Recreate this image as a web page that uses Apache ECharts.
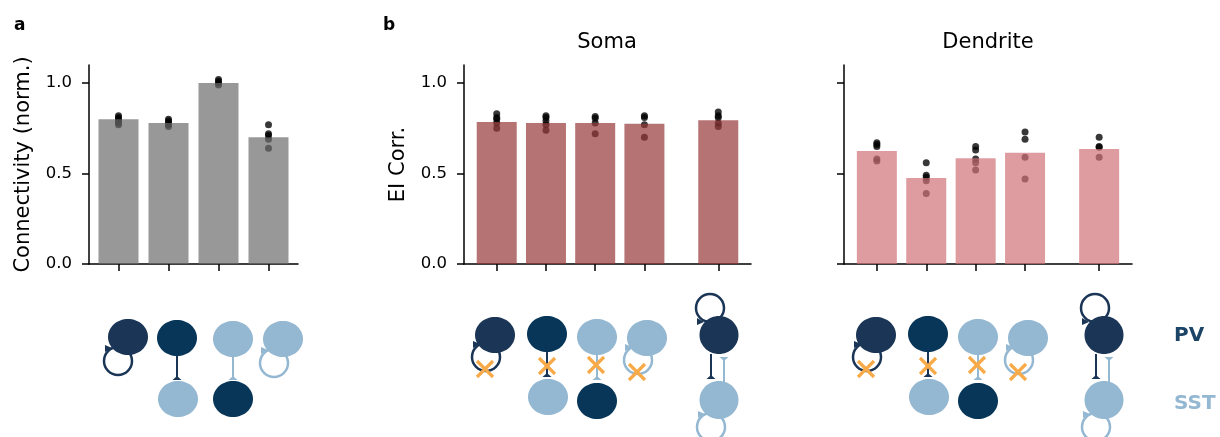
<!DOCTYPE html>
<html>
<head>
<meta charset="utf-8">
<script src="https://cdn.jsdelivr.net/npm/echarts@6/dist/echarts.min.js"></script>
<style>
  html, body { margin: 0; padding: 0; background: #fff; }
  #chart { width: 1220px; height: 437px; }
</style>
</head>
<body>
<div id="chart"></div>
<script>
// ---- data ----
var connCats = ['PV→PV', 'PV→SST', 'SST→PV', 'SST→SST'];
var connPos = [0, 1, 2, 3];
var connMean = [0.80, 0.78, 1.00, 0.70];
var connDots = [
  [0.82, 0.81, 0.80, 0.79, 0.78, 0.77],
  [0.80, 0.79, 0.78, 0.77, 0.76],
  [1.02, 1.01, 1.00, 0.99],
  [0.77, 0.72, 0.71, 0.69, 0.64]
];

var eiCats = ['no PV→PV', 'no PV→SST', 'no SST→PV', 'no SST→SST', 'full'];
var eiPos = [0, 1, 2, 3, 4.5];
var somaMean = [0.785, 0.78, 0.78, 0.775, 0.795];
var somaDots = [
  [0.83, 0.81, 0.80, 0.78, 0.75],
  [0.82, 0.81, 0.79, 0.77, 0.74],
  [0.815, 0.805, 0.78, 0.72],
  [0.82, 0.81, 0.77, 0.70],
  [0.84, 0.82, 0.81, 0.78, 0.76]
];
var dendMean = [0.625, 0.475, 0.585, 0.615, 0.635];
var dendDots = [
  [0.67, 0.66, 0.65, 0.58, 0.57],
  [0.56, 0.49, 0.48, 0.46, 0.39],
  [0.65, 0.63, 0.58, 0.56, 0.52],
  [0.73, 0.69, 0.59, 0.47],
  [0.70, 0.65, 0.645, 0.59]
];

var yTicks = [0, 0.5, 1.0];

// ---- colours ----
var PV_LOOP = '#1a3555';
var PV = '#073659';
var SST = '#94b8d2';
var CROSS = '#f8aa48';

function barData(pos, mean) {
  return pos.map(function (x, i) { return [x, mean[i]]; });
}
function dotData(pos, dots) {
  var out = [];
  dots.forEach(function (list, i) {
    list.forEach(function (v) { out.push([pos[i], v]); });
  });
  return out;
}

function xAx(idx, min, max, ticks) {
  return {
    type: 'value', gridIndex: idx, min: min, max: max,
    splitLine: { show: false },
    axisLine: { onZero: false, lineStyle: { color: '#000', width: 1.5 } },
    axisTick: { show: true, customValues: ticks, length: 7, lineStyle: { color: '#000', width: 1.5 } },
    axisLabel: { show: false }
  };
}
function yAx(idx, name, labels) {
  return {
    type: 'value', gridIndex: idx, min: 0, max: 1.1,
    name: name, nameLocation: 'middle', nameGap: 55,
    nameTextStyle: { fontSize: 21, color: '#000' },
    splitLine: { show: false },
    axisLine: { show: true, onZero: false, lineStyle: { color: '#000', width: 1.5 } },
    axisTick: { show: true, customValues: yTicks, length: 7, lineStyle: { color: '#000', width: 1.5 } },
    axisLabel: {
      show: labels, customValues: yTicks, fontSize: 16.5, color: '#000', margin: 17,
      formatter: function (v) { return v.toFixed(1); }
    }
  };
}
function barSeries(idx, pos, mean, color) {
  return {
    type: 'bar', xAxisIndex: idx, yAxisIndex: idx, barWidth: 40, z: 3,
    data: barData(pos, mean),
    itemStyle: { color: color, opacity: 0.7 },
    silent: true
  };
}
function dotSeries(idx, pos, dots) {
  return {
    type: 'scatter', xAxisIndex: idx, yAxisIndex: idx, z: 2,
    symbolSize: 7, data: dotData(pos, dots),
    itemStyle: { color: '#000', opacity: 0.78 },
    silent: true
  };
}

// ---- network sketches below the bars ----
var g = [];
var loops = [], links = [], ells = [], heads = [], crosses = [];

function ell(cx, cy, color, rx, ry) {
  ells.push({ type: 'ellipse', shape: { cx: cx, cy: cy, rx: rx || 20, ry: ry || 18 }, style: { fill: color }, silent: true });
}
function loop(cx, cy, color, above) {
  loops.push({ type: 'circle', shape: { cx: cx, cy: cy, r: 14 }, style: { fill: 'none', stroke: color, lineWidth: 2.5 }, silent: true });
  var pts = above
    ? [[cx - 13, cy + 10], [cx - 13, cy + 17], [cx - 6, cy + 14]]
    : [[cx - 13, cy - 16], [cx - 13, cy - 9], [cx - 6, cy - 13]];
  heads.push({ type: 'polygon', shape: { points: pts }, style: { fill: color }, silent: true });
}
function link(x, y1, y2, color, down) {
  links.push({ type: 'line', shape: { x1: x, y1: y1, x2: x, y2: y2 }, style: { stroke: color, lineWidth: 2 }, silent: true });
  var pts = down
    ? [[x - 4.5, y1], [x + 4.5, y1], [x, y1 + 4]]
    : [[x, y2 - 4], [x - 4.5, y2], [x + 4.5, y2]];
  heads.push({ type: 'polygon', shape: { points: pts }, style: { fill: color }, silent: true });
}
function cross(cx, cy) {
  var d = 8;
  crosses.push({ type: 'line', shape: { x1: cx - d, y1: cy - d, x2: cx + d, y2: cy + d }, style: { stroke: CROSS, lineWidth: 3.2 }, silent: true });
  crosses.push({ type: 'line', shape: { x1: cx - d, y1: cy + d, x2: cx + d, y2: cy - d }, style: { stroke: CROSS, lineWidth: 3.2 }, silent: true });
}

// panel a
ell(128, 337, PV_LOOP); loop(118, 361, PV_LOOP);
ell(177, 338, PV); link(177, 356, 380, PV_LOOP); ell(178, 399, SST);
ell(233, 339, SST); link(233, 357, 380, SST); ell(233, 399, PV);
ell(283, 339, SST); loop(274, 363, SST);

// panel b, soma and dendrite
[[0, 0], [381, 385]].forEach(function (s) {
  var dx = s[0], cx = s[1];
  ell(495 + dx, 335, PV_LOOP); loop(486 + dx, 357, PV_LOOP); cross(485 + dx, 369);
  ell(547 + dx, 334, PV); link(547 + dx, 352, 377, PV_LOOP); cross(547 + dx, 366); ell(548 + dx, 397, SST);
  ell(597 + dx, 337, SST); link(597 + dx, 355, 380, SST); cross(596 + dx, 365); ell(597 + dx, 401, PV);
  ell(647 + dx, 338, SST); loop(638 + dx, 360, SST); cross(637 + dx, 372);

  loop(710 + cx, 308, PV_LOOP, true); ell(719 + cx, 335, PV_LOOP, 19.5, 19);
  link(711 + cx, 354, 379, PV_LOOP);
  link(724 + cx, 357, 382, SST, true);
  ell(719 + cx, 400, SST, 19.5, 19); loop(711 + cx, 427, SST);
});

g = g.concat(loops, links, ells, heads, crosses);

g.push(
  { type: 'text', x: 14, y: 26, style: { text: 'a', fontSize: 17, fontWeight: 'bold', fill: '#000', verticalAlign: 'middle', fontFamily: 'DejaVu Sans' } },
  { type: 'text', x: 383, y: 26, style: { text: 'b', fontSize: 17, fontWeight: 'bold', fill: '#000', verticalAlign: 'middle', fontFamily: 'DejaVu Sans' } },
  { type: 'text', x: 607, y: 43, style: { text: 'Soma', fontSize: 21, fill: '#000', align: 'center', verticalAlign: 'middle', fontFamily: 'DejaVu Sans' } },
  { type: 'text', x: 988, y: 43, style: { text: 'Dendrite', fontSize: 21, fill: '#000', align: 'center', verticalAlign: 'middle', fontFamily: 'DejaVu Sans' } },
  { type: 'text', x: 1174, y: 336, style: { text: 'PV', fontSize: 20, fontWeight: 'bold', fill: '#1b4466', verticalAlign: 'middle', fontFamily: 'DejaVu Sans' } },
  { type: 'text', x: 1174, y: 404, style: { text: 'SST', fontSize: 20, fontWeight: 'bold', fill: SST, verticalAlign: 'middle', fontFamily: 'DejaVu Sans' } }
);

var chart = echarts.init(document.getElementById('chart'), null, { renderer: 'canvas' });
chart.setOption({
  animation: false,
  backgroundColor: '#fff',
  textStyle: { fontFamily: 'DejaVu Sans' },
  grid: [
    { left: 89, top: 65, width: 209, height: 199 },
    { left: 464, top: 65, width: 287, height: 199 },
    { left: 844, top: 65, width: 288, height: 199 }
  ],
  xAxis: [
    xAx(0, -0.59, 3.59, connPos),
    xAx(1, -0.665, 5.165, eiPos),
    xAx(2, -0.665, 5.165, eiPos)
  ],
  yAxis: [
    yAx(0, 'Connectivity (norm.)', true),
    yAx(1, 'EI Corr.', true),
    yAx(2, '', false)
  ],
  series: [
    barSeries(0, connPos, connMean, '#6c6c6c'),
    dotSeries(0, connPos, connDots),
    barSeries(1, eiPos, somaMean, '#953737'),
    dotSeries(1, eiPos, somaDots),
    barSeries(2, eiPos, dendMean, '#d07277'),
    dotSeries(2, eiPos, dendDots)
  ],
  graphic: g
});
</script>
</body>
</html>
